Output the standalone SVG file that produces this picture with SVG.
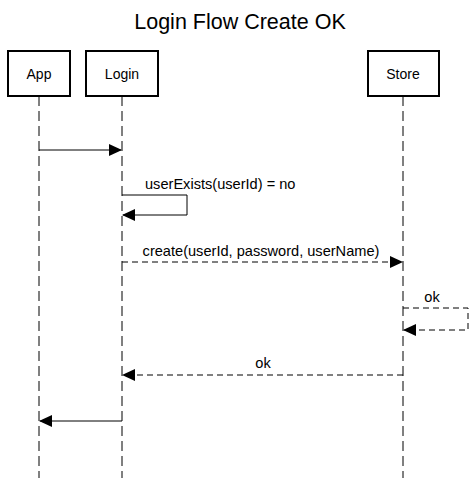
<svg xmlns="http://www.w3.org/2000/svg" width="476" height="478" viewBox="0 0 476 478">
<style>
.box{fill:#fff;stroke:#000;stroke-width:2}
.t{font-family:"Liberation Sans",Arial,sans-serif;font-size:14px;fill:#000;text-anchor:middle}
.m{font-size:14.6px}
.life{stroke:#000;stroke-width:1;stroke-dasharray:10 5;fill:none}
.msg{stroke:#000;stroke-width:1;fill:none}
.dash{stroke-dasharray:6 4}
</style>
<defs>
<marker id="ah" markerWidth="13" markerHeight="12" refX="12" refY="6" orient="auto" markerUnits="userSpaceOnUse">
<path d="M0,0 L13,6 L0,12 Z" fill="#000"/>
</marker>
</defs>
<rect width="476" height="478" fill="#fff"/>
<text x="240" y="29" class="t" style="font-size:21.5px">Login Flow Create OK</text>
<g id="lifelines">
<line class="life" x1="39" y1="96" x2="39" y2="478"/>
<line class="life" x1="122" y1="96" x2="122" y2="478"/>
<line class="life" x1="403" y1="96" x2="403" y2="478"/>
</g>
<g id="app"><rect class="box" x="8" y="51" width="62" height="45"/><text class="t" x="39" y="79">App</text></g>
<g id="login"><rect class="box" x="86" y="51" width="72" height="45"/><text class="t" x="122" y="79">Login</text></g>
<g id="store"><rect class="box" x="368" y="51" width="71" height="45"/><text class="t" x="403" y="79">Store</text></g>
<g id="connectors">
<path class="msg" d="M39,150 H121" marker-end="url(#ah)"/>
<path class="msg" d="M122,195 H187 V215 H123" marker-end="url(#ah)"/>
<text class="t m" x="145" y="189" style="text-anchor:start">userExists(userId) = no</text>
<path class="msg dash" d="M122,262 H402" marker-end="url(#ah)"/>
<text class="t m" x="261" y="256">create(userId, password, userName)</text>
<path class="msg dash" d="M403,308 H468 V330 H404" marker-end="url(#ah)"/>
<text class="t m" x="432" y="302">ok</text>
<path class="msg dash" d="M403,375 H123" marker-end="url(#ah)"/>
<text class="t m" x="263" y="368">ok</text>
<path class="msg" d="M122,421 H40" marker-end="url(#ah)"/>
</g>
</svg>
